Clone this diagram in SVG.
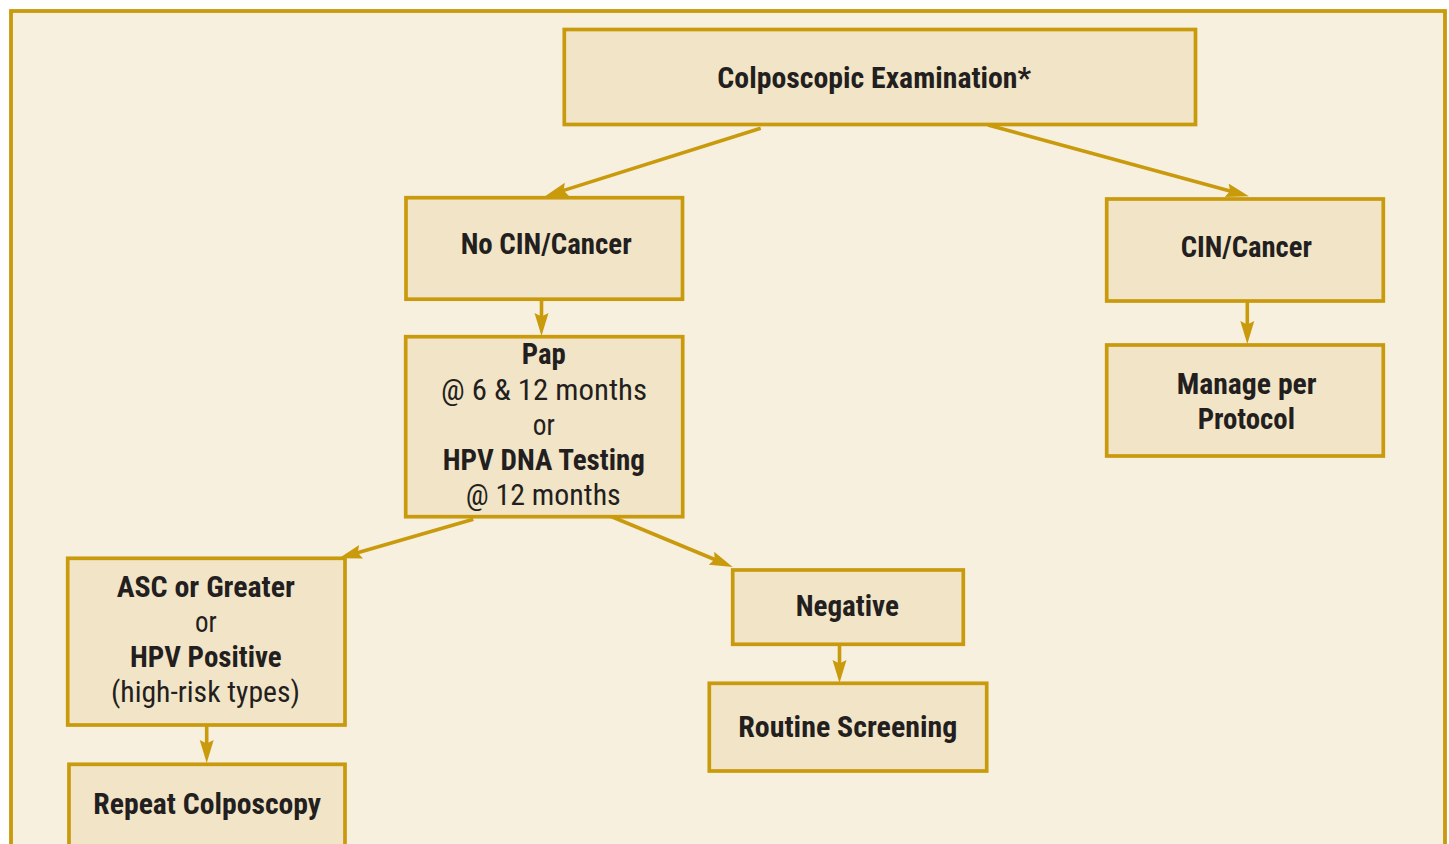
<svg xmlns="http://www.w3.org/2000/svg" width="1449" height="844" viewBox="0 0 1449 844">
  <defs>
    <style>
      .frame { fill: #F7F0DF; stroke: #C99A0C; stroke-width: 3.8; }
      .box { fill: #F2E4C6; stroke: #C99A0C; stroke-width: 3.7; }
      .edge { fill: none; stroke: #C99A0C; stroke-width: 3.6; marker-end: url(#head); }
      text { font-family: "Liberation Sans Narrow", "Roboto Condensed", "DejaVu Sans Condensed", "Liberation Sans", Arial, sans-serif; font-size: 30px; fill: #231F20; text-anchor: middle; }
      .b { font-weight: bold; }
      .r { font-weight: normal; }
    </style>
    <marker id="head" markerUnits="userSpaceOnUse" markerWidth="25" markerHeight="15" refX="10" refY="7.5" orient="auto" viewBox="0 0 25 15">
      <path d="M0,0.5 L23,7.5 L0,14.5 L3.5,7.5 Z" fill="#C99A0C"/>
    </marker>
  </defs>

  <rect width="1449" height="844" fill="#FFFFFF"/>
  <rect class="frame" x="11" y="11" width="1434" height="860"/>

  <g id="connectors">
    <line class="edge" x1="760.7" y1="128.3" x2="557.4" y2="192.4"/>
    <line class="edge" x1="988" y1="125" x2="1236.4" y2="192.8"/>
    <line class="edge" x1="541.5" y1="299" x2="541.5" y2="323"/>
    <line class="edge" x1="1247.3" y1="301" x2="1247.3" y2="331"/>
    <line class="edge" x1="473.3" y1="519.3" x2="351.5" y2="554.6"/>
    <line class="edge" x1="610" y1="516" x2="720.7" y2="562"/>
    <line class="edge" x1="839.5" y1="644" x2="839.5" y2="670"/>
    <line class="edge" x1="206.7" y1="725" x2="206.7" y2="750"/>
  </g>

  <g id="colposcopic-examination">
    <rect class="box" x="564.3" y="29.5" width="631.2" height="95"/>
    <text class="b" x="874.2" y="87.5" textLength="313.7" lengthAdjust="spacingAndGlyphs">Colposcopic Examination*</text>
  </g>

  <g id="no-cin-cancer">
    <rect class="box" x="406" y="197.7" width="276.5" height="101.5"/>
    <text class="b" x="546.2" y="254.3" textLength="171" lengthAdjust="spacingAndGlyphs">No CIN/Cancer</text>
  </g>

  <g id="cin-cancer">
    <rect class="box" x="1106.7" y="199" width="276.6" height="102"/>
    <text class="b" x="1246.3" y="257.3" textLength="131.3" lengthAdjust="spacingAndGlyphs">CIN/Cancer</text>
  </g>

  <g id="manage-per-protocol">
    <rect class="box" x="1106.7" y="345" width="276.6" height="111"/>
    <text class="b" x="1246.7" y="394" textLength="140" lengthAdjust="spacingAndGlyphs">Manage per</text>
    <text class="b" x="1246.3" y="429.3" textLength="97.3" lengthAdjust="spacingAndGlyphs">Protocol</text>
  </g>

  <g id="pap-or-hpv-testing">
    <rect class="box" x="405.7" y="336.7" width="277" height="180"/>
    <text class="b" x="543.7" y="364" textLength="44" lengthAdjust="spacingAndGlyphs">Pap</text>
    <text class="r" x="544" y="400" textLength="206" lengthAdjust="spacingAndGlyphs">@ 6 &amp; 12 months</text>
    <text class="r" x="543.8" y="435" textLength="22" lengthAdjust="spacingAndGlyphs">or</text>
    <text class="b" x="543.8" y="470" textLength="202.3" lengthAdjust="spacingAndGlyphs">HPV DNA Testing</text>
    <text class="r" x="543.2" y="505" textLength="155" lengthAdjust="spacingAndGlyphs">@ 12 months</text>
  </g>

  <g id="asc-or-hpv-positive">
    <rect class="box" x="67.7" y="558.3" width="277.3" height="166.7"/>
    <text class="b" x="205.8" y="597" textLength="178.3" lengthAdjust="spacingAndGlyphs">ASC or Greater</text>
    <text class="r" x="205.8" y="632" textLength="21.7" lengthAdjust="spacingAndGlyphs">or</text>
    <text class="b" x="205.8" y="667" textLength="151.7" lengthAdjust="spacingAndGlyphs">HPV Positive</text>
    <text class="r" x="205.5" y="702" textLength="189" lengthAdjust="spacingAndGlyphs">(high-risk types)</text>
  </g>

  <g id="repeat-colposcopy">
    <rect class="box" x="69" y="764.3" width="276" height="100"/>
    <text class="b" x="207.2" y="814" textLength="227.7" lengthAdjust="spacingAndGlyphs">Repeat Colposcopy</text>
  </g>

  <g id="negative">
    <rect class="box" x="732.7" y="570" width="230.6" height="74.3"/>
    <text class="b" x="847.3" y="615.7" textLength="103.3" lengthAdjust="spacingAndGlyphs">Negative</text>
  </g>

  <g id="routine-screening">
    <rect class="box" x="709.3" y="683.3" width="277.4" height="87.7"/>
    <text class="b" x="847.8" y="736.7" textLength="219" lengthAdjust="spacingAndGlyphs">Routine Screening</text>
  </g>
</svg>
